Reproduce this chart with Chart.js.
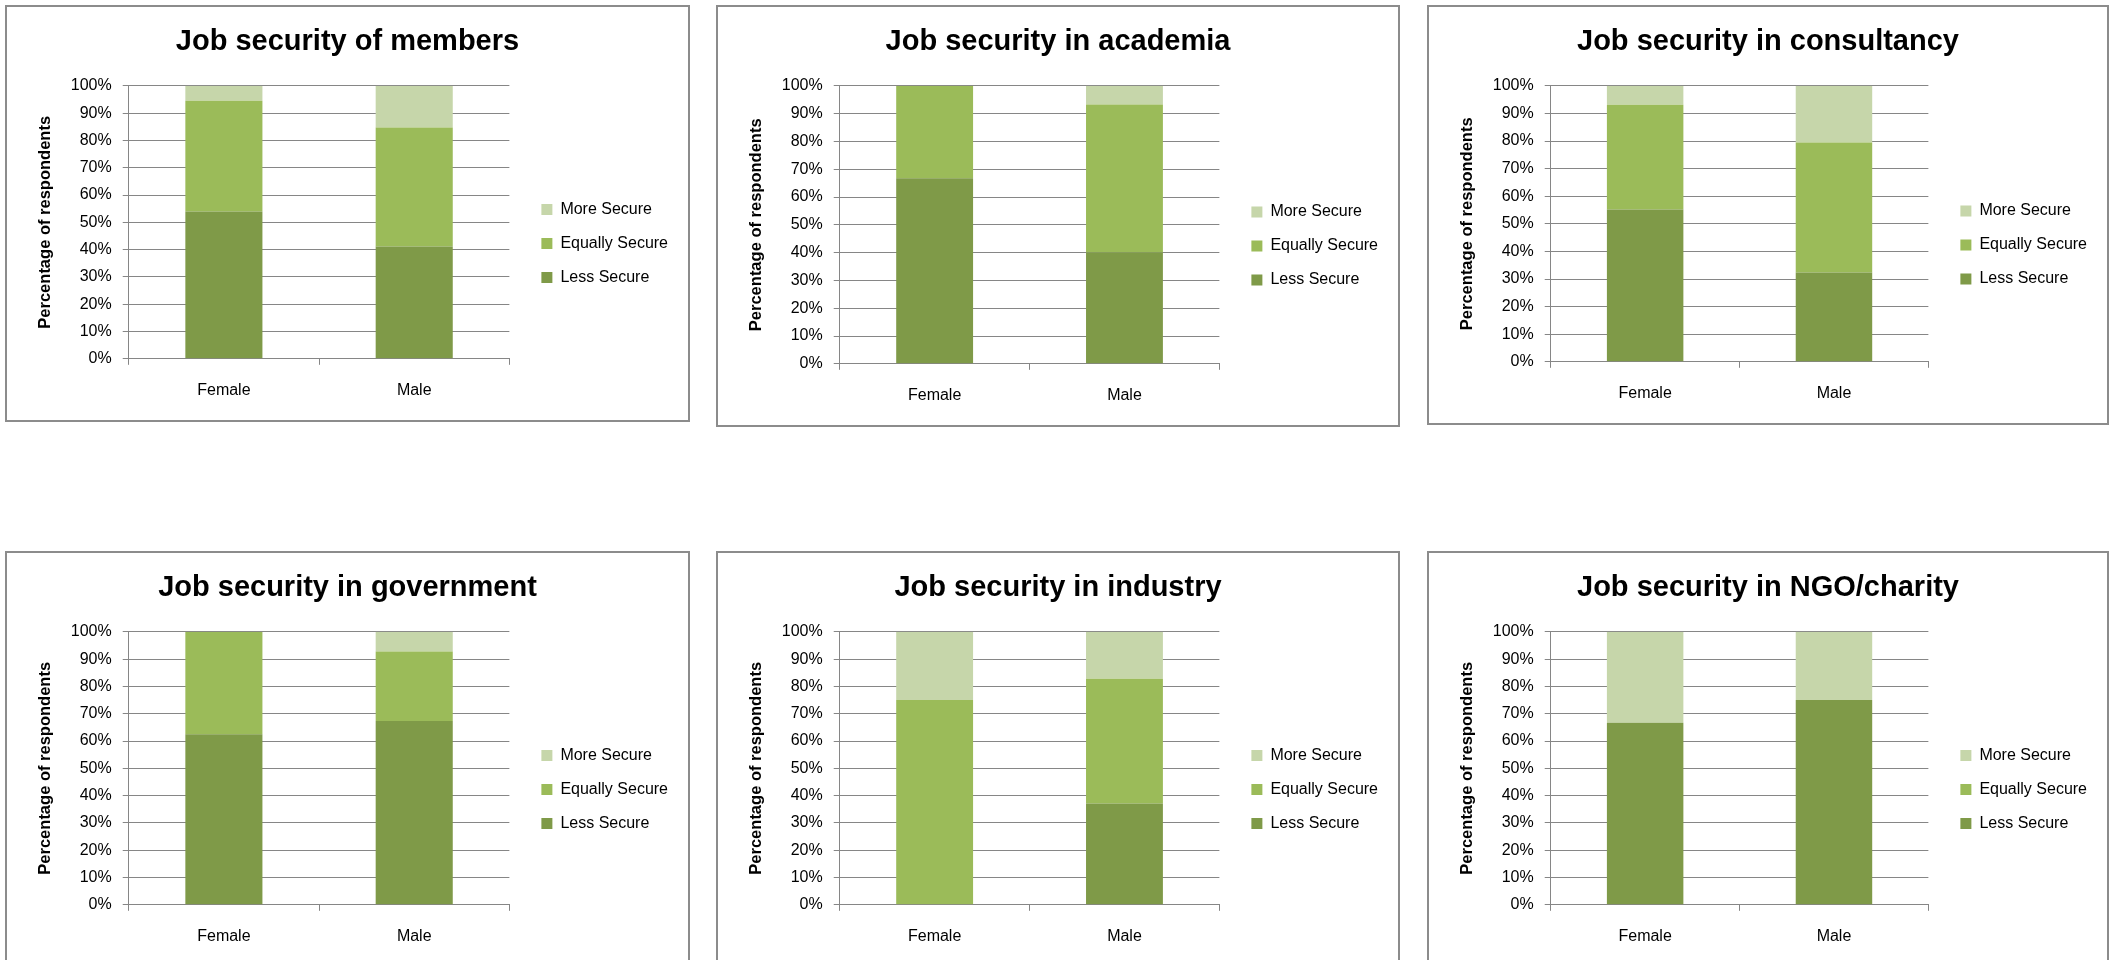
<!DOCTYPE html>
<html>
<head>
<meta charset="utf-8">
<title>Job security</title>
<script src="https://cdn.jsdelivr.net/npm/chart.js@4"></script>
<style>
  body { margin: 0; background: #fff; width: 2114px; height: 960px; overflow: hidden; position: relative; }
  .box { position: absolute; border: 2px solid #8c8c8c; box-sizing: border-box; background: #fff; }
  .box canvas { display: block; }
</style>
</head>
<body>
<script>
const genders = ['Female', 'Male'];
const seriesNames = ['Less Secure', 'Equally Secure', 'More Secure'];
const titles = [
    'Job security of members',
    'Job security in academia',
    'Job security in consultancy',
    'Job security in government',
    'Job security in industry',
    'Job security in NGO/charity'
];

// one [female, male] pair per chart, in the order of titles
const lessSecure = [[54.0, 41.1], [66.7, 40.0], [55.2, 32.4], [62.5, 67.3], [0, 37.1], [66.7, 75.0]];
const equallySecure = [[40.5, 43.6], [33.3, 53.3], [37.9, 47.1], [37.5, 25.5], [75.0, 45.7], [0, 0]];
const moreSecure = [[5.5, 15.3], [0, 6.7], [6.9, 20.5], [0, 7.2], [25.0, 17.2], [33.3, 25.0]];

const yTicks = [0, 10, 20, 30, 40, 50, 60, 70, 80, 90, 100];

const C_LESS = '#7f9a48';
const C_EQUAL = '#9bbb59';
const C_MORE = '#c6d6aa';
const C_GRID = '#868686';
const FONT = "'Liberation Sans', Arial, sans-serif";

// left, top, width, height of each framed chart
const frames = [
    [5, 5, 685, 417], [716, 5, 684, 422], [1427, 5, 682, 420],
    [5, 551, 685, 417], [716, 551, 684, 417], [1427, 551, 682, 417]
];

// push the legend a little away from the plot and down
const legendShift = {
    id: 'legendShift',
    afterLayout(chart) {
        const lg = chart.legend;
        lg.left += 14;
        lg.right += 14;
        lg.top += 32;
        lg.bottom += 32;
    }
};

function makeChart(i) {
    const [left, top, w, h] = frames[i];
    const box = document.createElement('div');
    box.className = 'box';
    box.style.left = left + 'px';
    box.style.top = top + 'px';
    box.style.width = w + 'px';
    box.style.height = h + 'px';
    const canvas = document.createElement('canvas');
    canvas.width = w - 4;
    canvas.height = h - 4;
    box.appendChild(canvas);
    document.body.appendChild(box);

    return new Chart(canvas, {
        type: 'bar',
        data: {
            labels: genders,
            datasets: [
                { label: seriesNames[0], data: lessSecure[i], backgroundColor: C_LESS },
                { label: seriesNames[1], data: equallySecure[i], backgroundColor: C_EQUAL },
                { label: seriesNames[2], data: moreSecure[i], backgroundColor: C_MORE }
            ]
        },
        plugins: [legendShift],
        options: {
            responsive: false,
            animation: false,
            categoryPercentage: 1,
            barPercentage: 0.405,
            layout: { padding: { left: 24, right: 24, bottom: 4 } },
            plugins: {
                title: {
                    display: true,
                    text: titles[i],
                    color: '#000',
                    font: { family: FONT, size: 29, weight: 'bold' },
                    padding: { top: 18, bottom: 26 }
                },
                legend: {
                    position: 'right',
                    reverse: true,
                    labels: {
                        boxWidth: 11,
                        boxHeight: 11,
                        padding: 18,
                        color: '#000',
                        font: { family: FONT, size: 16 }
                    }
                },
                tooltip: { enabled: false }
            },
            scales: {
                x: {
                    stacked: true,
                    grid: { offset: true, drawOnChartArea: false, color: C_GRID, tickLength: 6 },
                    border: { color: C_GRID },
                    ticks: { color: '#000', padding: 16, font: { family: FONT, size: 16 } }
                },
                y: {
                    stacked: true,
                    min: 0,
                    max: 100,
                    afterBuildTicks: (scale) => { scale.ticks = yTicks.map(v => ({ value: v })); },
                    grid: { color: C_GRID, tickLength: 6 },
                    border: { color: C_GRID },
                    ticks: {
                        color: '#000',
                        padding: 11,
                        font: { family: FONT, size: 16 },
                        callback: (v) => v + '%'
                    },
                    title: {
                        display: true,
                        text: 'Percentage of respondents',
                        color: '#000',
                        font: { family: FONT, size: 16.5, weight: 'bold' },
                        padding: { top: 5, bottom: 4 }
                    }
                }
            }
        }
    });
}

titles.forEach((t, i) => makeChart(i));
</script>
</body>
</html>
